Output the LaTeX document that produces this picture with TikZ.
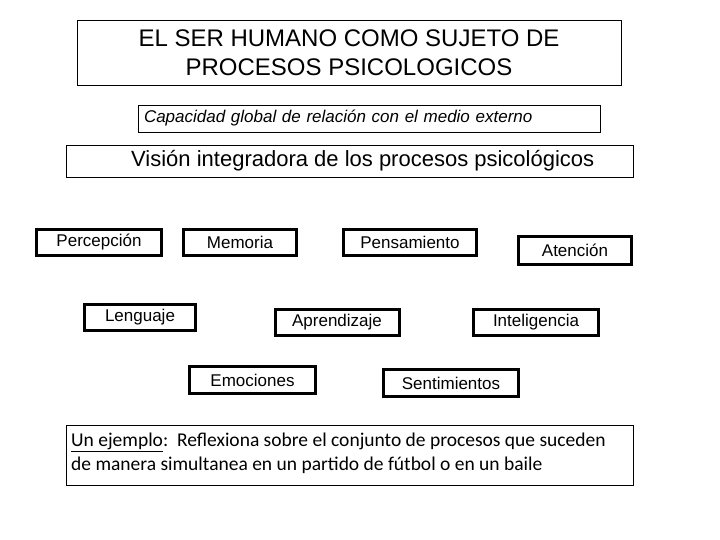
\documentclass[tikz,border=0pt]{standalone}
\usepackage{fontspec}
\setmainfont{Liberation Sans}
\newfontfamily\carl{Carlito}
\begin{document}
\begin{tikzpicture}[x=1pt,y=-1pt,
  thinbox/.style={draw, line width=0.9pt, inner sep=0pt, align=center},
  thickbox/.style={draw, line width=3pt, inner sep=0pt, minimum height=26pt,
    font=\fontsize{17}{20}\selectfont}]
\useasboundingbox (0,0) rectangle (720,540);
\node[thinbox, minimum width=544pt, minimum height=65pt,
  font=\fontsize{24}{29}\selectfont] (title) at (349,52.5)
  {EL SER HUMANO COMO SUJETO DE\\PROCESOS PSICOLOGICOS};
\node[thinbox, minimum width=462pt, minimum height=27pt, text width=450pt, align=left,
  font=\fontsize{17}{20}\itshape] (cap) at (369,118.5)
  {Capacidad global de relación con el medio externo};
\node[thinbox, minimum width=567pt, minimum height=32pt] (vision) at (349.5,161) {};
\node[anchor=west, inner sep=0pt, font=\fontsize{22}{26}\selectfont] (visiontext)
  at (131,161) {Visión integradora de los procesos psicológicos};
\node[thickbox, minimum width=125pt] (perc) at (99,242.5) {Percepción};
\node[thickbox, minimum width=113pt] (mem) at (240,242.5) {Memoria};
\node[thickbox, minimum width=133pt] (pens) at (410,242.5) {Pensamiento};
\node[thickbox, minimum width=113pt, minimum height=28pt] (aten) at (575,250.5) {Atención};
\node[thickbox, minimum width=111pt] (leng) at (140,317) {Lenguaje};
\node[thickbox, minimum width=124pt] (apre) at (337,322.5) {Aprendizaje};
\node[thickbox, minimum width=125pt] (inte) at (536,322.5) {Inteligencia};
\node[thickbox, minimum width=126pt, minimum height=27pt] (emoc) at (252.5,380) {Emociones};
\node[thickbox, minimum width=135pt, minimum height=27pt] (sent) at (451,383) {Sentimientos};
\node[thinbox, minimum width=567pt, minimum height=60pt] (ejbox) at (349.5,455) {};
\node[anchor=north west, inner sep=0pt, align=left,
  font=\carl\fontsize{19.5}{24}\selectfont] (ej) at (71,433)
  {\underline{Un ejemplo}:\ \ Reflexiona sobre el conjunto de procesos que suceden\\
   de manera simultanea en un partido de fútbol o en un baile};
\end{tikzpicture}
\end{document}
